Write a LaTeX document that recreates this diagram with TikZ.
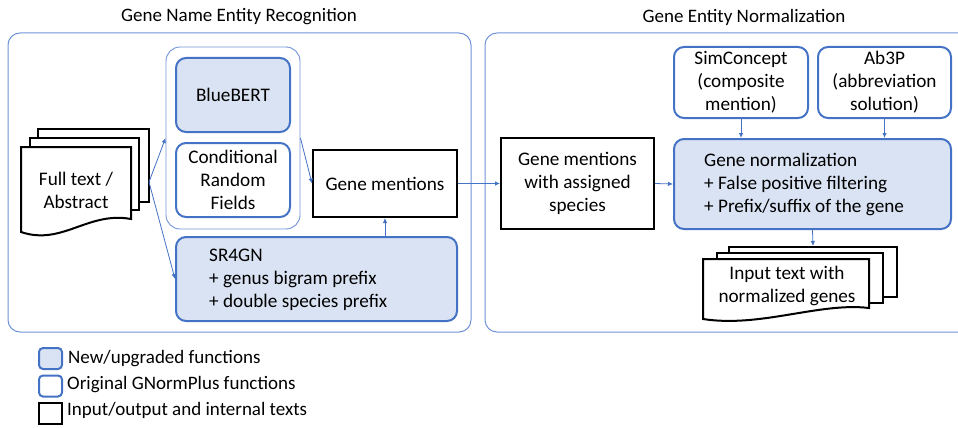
\documentclass[tikz,border=0pt]{standalone}
\usepackage{fontspec}
\setmainfont{Carlito}
\usetikzlibrary{arrows.meta,calc}
\definecolor{myblue}{HTML}{4472C4}
\definecolor{lightblue}{HTML}{DAE3F3}
\definecolor{panelblue}{HTML}{6F93D6}
\tikzset{
  newbox/.style={draw=myblue, line width=2pt, fill=lightblue, rounded corners=10pt, inner sep=0pt},
  origbox/.style={draw=myblue, line width=2pt, fill=white, rounded corners=10pt, inner sep=0pt},
  iobox/.style={draw=black, line width=2pt, fill=white, inner sep=0pt},
  panel/.style={draw=panelblue, line width=1pt, rounded corners=12pt},
  grp/.style={draw=panelblue, line width=0.9pt, rounded corners=14pt, inner sep=0pt},
  page/.style={draw=black, line width=2pt, fill=white, inner sep=0pt},
  docline/.style={draw=black, line width=2pt, fill=white, line join=miter},
  arr/.style={draw=myblue, line width=0.8pt, -{Latex[length=5pt,width=4.5pt]}},
  boxtext/.style={font=\fontsize{19.2}{23}\selectfont, align=center},
  lefttext/.style={font=\fontsize{19.2}{23}\selectfont, align=left, inner sep=0pt},
  title/.style={font=\fontsize{19}{22}\selectfont},
  legtext/.style={font=\fontsize{19}{22}\selectfont, anchor=west, inner sep=0pt},
  legbox/.style={minimum width=23pt, minimum height=21pt, inner sep=0pt}
}
\begin{document}
\begin{tikzpicture}[x=1pt,y=-1pt]
\useasboundingbox (0,0) rectangle (958,428);
\clip (0,0) rectangle (958,428);

% titles
\node[title] (t1) at (239,17) {Gene Name Entity Recognition};
\node[title] (t2) at (744,17) {Gene Entity Normalization};

% panels
\draw[panel] (8,33) rectangle (471,332);
\draw[panel] (485,33) rectangle (985,332);

% input document stack
\node[page, minimum width=111pt, minimum height=73pt] (fBack) at (93.5,165.5) {};
\node[page, minimum width=109pt, minimum height=72pt] (fMid) at (84.5,174) {};
\draw[docline] (21,147) -- (131,147) -- (131,219) .. controls (88,211) and (62,246) .. (21,232) -- cycle;
\node[boxtext] (fText) at (76,190) {Full text /\\Abstract};
\coordinate (fsrc) at (149,182);

% NER components
\node[grp, minimum width=134pt, minimum height=182pt] (grp) at (233,138) {};
\node[newbox, minimum width=114pt, minimum height=74pt, boxtext] (bert) at (233,95) {BlueBERT};
\node[origbox, minimum width=114pt, minimum height=74pt, boxtext] (crf) at (233,180) {Conditional\\Random\\Fields};
\node[iobox, minimum width=144pt, minimum height=67pt, boxtext] (gm) at (385,183.5) {Gene mentions};
\node[newbox, minimum width=281pt, minimum height=84pt] (sr) at (316.5,279) {};
\node[lefttext, anchor=west] (srText) at (209,280) {SR4GN\\+ genus bigram prefix\\+ double species prefix};

% normalization components
\node[iobox, minimum width=153pt, minimum height=91pt, boxtext] (gms) at (577.5,183.5) {Gene mentions\\with assigned\\species};
\node[origbox, minimum width=134pt, minimum height=71pt, boxtext] (sim) at (741,82.5) {SimConcept\\(composite\\mention)};
\node[origbox, minimum width=133pt, minimum height=71pt, boxtext] (ab) at (884.5,82.5) {Ab3P\\(abbreviation\\solution)};
\node[newbox, minimum width=277pt, minimum height=90pt] (gn) at (812.5,184) {};
\node[lefttext, anchor=west] (gnText) at (704,184) {Gene normalization\\+ False positive filtering\\+ Prefix/suffix of the gene};

% output document stack
\node[page, minimum width=168pt, minimum height=50pt] (oBack) at (813,272) {};
\node[page, minimum width=166pt, minimum height=50pt] (oMid) at (800,278) {};
\draw[docline] (703,259) -- (869,259) -- (869,308) .. controls (820,302) and (760,328) .. (703,319) -- cycle;
\node[boxtext] (oText) at (787,285.5) {Input text with\\normalized genes};

% connectors
\draw[arr] (fsrc) -- (grp.west);
\draw[arr] (fsrc) -- (sr.west);
\draw[arr] (grp.east) -- (gm.west);
\draw[arr] (gm.south |- sr.north) -- (gm.south);
\draw[arr] (gm.east) -- (gms.west);
\draw[arr] (gms.east) -- (gn.west);
\draw[arr] (sim.south) -- (sim.south |- gn.north);
\draw[arr] (ab.south) -- (ab.south |- gn.north);
\draw[arr] (gn.south) -- (oBack.north);

% legend
\node[newbox, legbox, rounded corners=4pt] (l1) at (50.5,358.5) {};
\node[legtext] (l1t) at (68,359) {New/upgraded functions};
\node[origbox, legbox, rounded corners=4pt] (l2) at (50.5,386) {};
\node[legtext] (l2t) at (67,385) {Original GNormPlus functions};
\node[iobox, legbox] (l3) at (50.5,413) {};
\node[legtext] (l3t) at (67,410) {Input/output and internal texts};
\end{tikzpicture}
\end{document}
